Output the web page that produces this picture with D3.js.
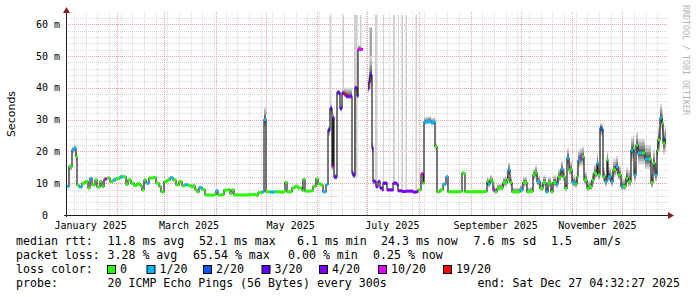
<!DOCTYPE html>
<html>
<head>
<meta charset="utf-8">
<script src="https://cdn.jsdelivr.net/npm/d3@7"></script>
<style>
  html, body { margin: 0; padding: 0; background: #fff; }
  svg text { font-family: "DejaVu Sans Mono", monospace; fill: #000; white-space: pre; }
</style>
</head>
<body>
<div id="chart"></div>
<script>
// median rtt per step: [day since start, median ms, loss class, smoke low ms, smoke high ms]
const rtt = [
  [0, 9.0, 1, 8.6, 9.6], [1.8, 15.2, 0, 14.0, 16.0], [3.6, 20.5, 1, 19.5, 21.5], [4.8, 21.0, 1, 20.0, 22.0],
  [6.0, 18.3, 0, 17.0, 19.8], [6.6, 9.4, 0, 9.0, 10.0], [7.8, 8.8, 1, 8.4, 9.3], [9.6, 10.0, 0, 9.6, 10.5],
  [11.4, 10.5, 0, 10.1, 11.0], [13.2, 8.5, 0, 8.1, 9.0], [14.4, 11.5, 1, 11.0, 12.0], [15.6, 9.5, 0, 9.1, 10.0],
  [17.4, 11.0, 0, 10.6, 11.5], [18.6, 8.8, 0, 8.4, 9.3], [20.4, 10.5, 0, 10.1, 11.0], [21.6, 9.0, 0, 8.6, 9.5],
  [22.8, 11.3, 5, 10.8, 11.8], [24.6, 11.6, 0, 11.2, 12.1], [26.4, 10.5, 0, 10.1, 11.0], [28.2, 11.0, 1, 10.6, 11.5],
  [30.0, 11.5, 0, 11.1, 12.0], [32.4, 12.0, 1, 11.6, 12.5], [34.2, 12.0, 0, 11.6, 12.5], [36.0, 9.6, 0, 9.2, 10.1],
  [37.2, 11.0, 0, 10.6, 11.5], [39.0, 10.0, 0, 9.6, 10.5], [40.8, 9.3, 0, 8.9, 9.8], [42.6, 9.8, 0, 9.4, 10.3],
  [44.4, 9.2, 0, 8.8, 9.7], [45.6, 7.9, 0, 7.5, 8.4], [46.8, 11.0, 0, 10.6, 11.5], [48.0, 10.0, 1, 9.6, 10.5],
  [49.8, 11.6, 0, 11.2, 12.1], [52.2, 11.8, 0, 11.4, 12.3], [54.0, 10.0, 0, 9.6, 10.5], [55.8, 9.0, 0, 8.6, 9.5],
  [57.0, 7.3, 0, 6.9, 7.8], [58.8, 10.5, 0, 10.1, 11.0], [60.6, 11.0, 0, 10.6, 11.5], [62.4, 11.7, 1, 11.3, 12.2],
  [64.2, 11.0, 0, 10.6, 11.5], [66.0, 9.5, 0, 9.1, 10.0], [67.8, 10.5, 0, 10.1, 11.0], [69.6, 9.2, 0, 8.8, 9.7],
  [71.4, 9.5, 1, 9.1, 10.0], [73.2, 9.3, 0, 8.9, 9.8], [75.0, 8.8, 0, 8.4, 9.3], [76.2, 9.2, 0, 8.8, 9.7],
  [77.4, 8.0, 0, 7.6, 8.5], [78.6, 7.3, 0, 6.9, 7.8], [79.8, 8.6, 1, 8.2, 9.1], [81.6, 8.0, 0, 7.6, 8.5],
  [83.4, 6.3, 0, 6.0, 6.7], [86.4, 6.2, 0, 5.9, 6.6], [88.8, 6.5, 0, 6.2, 6.9], [90.0, 7.6, 1, 7.2, 8.0],
  [91.2, 6.3, 0, 6.0, 6.7], [93.0, 6.4, 0, 6.1, 6.8], [94.8, 7.8, 0, 7.4, 8.2], [97.2, 8.0, 0, 7.6, 8.4],
  [98.4, 6.8, 0, 6.5, 7.2], [99.6, 7.9, 0, 7.5, 8.3], [100.8, 6.3, 0, 6.0, 6.7], [104.4, 6.3, 0, 6.0, 6.7],
  [109.2, 6.4, 0, 6.1, 6.8], [114.0, 6.2, 0, 5.9, 6.6], [115.2, 7.0, 0, 6.7, 7.4], [117.6, 7.3, 1, 7.0, 7.7],
  [118.8, 30.0, 1, 28.0, 34.0], [120.0, 7.3, 0, 7.0, 7.7], [122.4, 7.2, 1, 6.9, 7.6], [125.4, 7.3, 0, 7.0, 7.7],
  [128.4, 7.2, 0, 6.9, 7.6], [130.8, 7.5, 0, 7.2, 7.9], [131.4, 10.2, 0, 9.8, 10.6], [132.6, 7.3, 0, 7.0, 7.7],
  [135.6, 8.5, 0, 8.1, 8.9], [137.4, 9.0, 0, 8.6, 9.4], [139.2, 8.5, 0, 8.1, 8.9], [141.6, 7.7, 0, 7.4, 8.1],
  [142.2, 11.2, 0, 10.8, 11.6], [143.4, 7.5, 0, 7.2, 7.9], [146.4, 7.6, 0, 7.3, 8.0], [148.2, 9.0, 0, 8.6, 9.4],
  [150.0, 11.4, 0, 11.0, 11.8], [151.2, 9.8, 0, 9.4, 10.2], [153.0, 9.4, 0, 9.0, 9.8], [154.2, 7.3, 1, 7.0, 7.7],
  [156.0, 9.6, 1, 9.2, 10.0], [157.2, 26.7, 3, 25.0, 28.0], [158.4, 33.5, 3, 31.5, 35.0], [159.6, 15.2, 5, 14.0, 16.5],
  [160.2, 30.5, 3, 29.0, 32.0], [160.8, 12.0, 3, 11.0, 13.0], [162.6, 38.5, 3, 37.5, 39.5], [163.8, 38.3, 3, 37.5, 39.5],
  [164.4, 33.5, 3, 32.5, 34.5], [165.6, 38.3, 3, 37.5, 39.5], [166.8, 38.0, 6, 37.0, 40.0], [168.0, 37.3, 4, 36.5, 40.0],
  [170.4, 37.3, 4, 36.5, 40.0], [171.6, 13.2, 4, 12.0, 14.5], [172.2, 12.5, 3, 11.5, 13.5], [173.4, 40.0, 3, 39.0, 41.0],
  [174.6, 37.5, 3, 36.5, 38.5], [175.2, 52.1, 5, 51.5, 53.5], [177.0, 52.1, 5, 51.5, 53.5], [178.2, null, 0, null, null],
  [181.2, 39.8, 4, 38.5, 44.0], [181.8, 42.0, 4, 40.0, 48.0], [182.4, 44.0, 3, 40.0, 50.0], [183.6, 21.0, 3, 19.0, 23.0],
  [184.2, 10.5, 4, 9.5, 11.5], [186.0, 8.9, 4, 8.3, 9.5], [187.2, 10.5, 4, 9.8, 11.2], [188.4, 8.5, 4, 8.0, 9.0],
  [189.6, 7.9, 4, 7.4, 8.4], [190.2, 10.0, 3, 9.4, 10.6], [192.6, 7.9, 4, 7.4, 8.4], [195.6, 7.9, 4, 7.4, 8.4],
  [196.2, 10.0, 4, 9.4, 10.6], [198.6, 9.5, 4, 8.9, 10.1], [199.2, 7.6, 4, 7.2, 8.1], [201.6, 7.4, 4, 7.0, 7.9],
  [204.0, 7.5, 4, 7.1, 8.0], [206.4, 7.5, 4, 7.1, 8.0], [208.2, 7.2, 4, 6.8, 7.7], [210.0, 7.3, 4, 6.9, 7.8],
  [211.2, 7.9, 0, 7.5, 8.4], [213.0, 12.9, 5, 12.3, 13.5], [214.2, 10.0, 0, 9.5, 10.5], [214.8, 29.3, 1, 28.5, 30.8],
  [217.2, 29.5, 1, 28.7, 31.0], [219.0, 29.0, 1, 28.2, 30.5], [220.8, 29.3, 1, 28.5, 30.8], [221.4, 21.5, 0, 20.5, 22.5],
  [222.6, 7.3, 0, 6.9, 7.8], [224.4, 7.9, 0, 7.5, 8.4], [226.2, 9.7, 1, 9.2, 10.2], [228.0, 12.0, 1, 11.4, 12.6],
  [229.2, 7.3, 0, 6.9, 7.8], [230.4, 7.3, 0, 6.9, 7.8], [233.4, 7.3, 0, 6.9, 7.8], [236.4, 7.4, 0, 7.0, 7.9],
  [237.6, 13.2, 0, 12.6, 13.8], [238.8, 13.0, 0, 12.4, 13.6], [239.4, 7.3, 0, 6.9, 7.8], [242.4, 7.3, 0, 6.9, 7.8],
  [245.4, 7.3, 0, 6.9, 7.8], [248.4, 7.3, 0, 6.9, 7.8], [251.4, 7.4, 0, 7.0, 7.9], [252.6, 10.5, 0, 9.5, 12.0],
  [253.2, 9.7, 1, 8.7, 11.5], [254.4, 11.0, 0, 9.8, 12.5], [255.6, 10.5, 0, 9.5, 12.0], [256.2, 7.9, 5, 7.2, 9.5],
  [257.4, 7.3, 0, 6.8, 8.5], [258.6, 8.4, 0, 7.6, 9.8], [260.4, 8.5, 0, 7.7, 10.0], [262.2, 10.2, 0, 9.0, 12.0],
  [264.6, 11.0, 0, 9.5, 13.5], [265.2, 14.2, 1, 12.5, 16.5], [266.4, 10.2, 0, 9.0, 12.0], [267.6, 7.3, 0, 6.8, 8.6],
  [270.0, 7.3, 0, 6.8, 8.6], [272.4, 7.9, 1, 7.2, 9.5], [274.2, 10.2, 0, 9.0, 12.0], [276.6, 7.3, 0, 6.8, 8.6],
  [278.4, 7.4, 0, 6.9, 8.8], [280.2, 12.6, 0, 11.0, 14.5], [281.4, 13.3, 0, 11.5, 15.5], [282.6, 10.5, 1, 9.2, 12.5],
  [284.4, 8.4, 0, 7.5, 10.0], [286.2, 10.2, 0, 9.0, 12.5], [288.0, 7.3, 1, 6.8, 9.0], [289.2, 10.0, 0, 8.8, 12.0],
  [291.0, 7.3, 0, 6.8, 9.0], [292.2, 10.2, 0, 9.0, 12.5], [294.0, 9.7, 1, 8.5, 12.0], [295.2, 12.0, 0, 10.5, 14.5],
  [297.0, 14.4, 1, 12.5, 17.0], [298.2, 12.0, 0, 10.5, 14.5], [299.4, 8.4, 0, 7.5, 10.5], [300.6, 17.9, 1, 15.5, 21.0],
  [301.8, 14.2, 0, 12.5, 17.0], [303.6, 10.2, 1, 9.0, 12.5], [305.4, 9.7, 0, 8.5, 12.0], [306.6, 12.0, 0, 10.5, 14.5],
  [307.2, 17.3, 1, 15.0, 20.5], [308.4, 18.0, 5, 15.5, 21.0], [309.6, 18.3, 0, 15.5, 21.5], [310.8, 11.0, 0, 9.5, 13.5],
  [312.6, 8.4, 0, 7.5, 10.5], [313.8, 8.9, 0, 7.8, 11.0], [315.6, 11.0, 0, 9.5, 13.5], [316.8, 13.1, 0, 11.5, 16.0],
  [318.6, 16.3, 1, 14.0, 19.5], [319.2, 12.6, 0, 11.0, 15.5], [320.4, 27.3, 2, 25.0, 29.0], [321.6, 26.7, 2, 24.5, 28.5],
  [322.2, 12.0, 0, 10.5, 15.0], [323.4, 10.5, 1, 9.0, 13.0], [324.6, 17.3, 0, 14.5, 20.0], [325.2, 12.0, 1, 10.5, 15.0],
  [327.0, 10.5, 1, 9.0, 13.5], [328.2, 14.2, 0, 12.0, 17.5], [330.0, 15.2, 1, 13.0, 18.5], [331.2, 12.6, 0, 11.0, 15.5],
  [333.0, 8.9, 1, 7.8, 11.5], [334.2, 9.0, 0, 7.8, 11.5], [336.0, 11.6, 0, 10.0, 15.0], [337.2, 10.5, 0, 9.0, 14.0],
  [339.0, 20.4, 1, 17.0, 24.5], [340.2, 21.0, 0, 17.5, 25.0], [340.8, 12.6, 1, 10.5, 16.5], [342.0, 22.0, 0, 18.5, 26.0],
  [343.2, 19.5, 1, 16.0, 24.0], [345.6, 19.5, 0, 16.0, 24.0], [347.4, 17.6, 1, 14.5, 22.0], [349.8, 17.6, 0, 14.5, 22.0],
  [351.0, 10.2, 0, 8.5, 13.5], [352.2, 16.3, 0, 13.5, 20.5], [353.4, 12.6, 1, 10.5, 16.5], [354.6, 20.4, 0, 17.0, 25.0],
  [355.2, 23.6, 0, 20.0, 28.0], [356.4, 30.5, 1, 27.0, 35.0], [357.6, 28.9, 0, 25.0, 33.0], [358.2, 22.6, 0, 19.0, 27.0],
  [359.4, 24.3, 1, 20.0, 28.0]
];

// tall smoke columns from single very slow pings: [from day, to day, bottom ms, top ms]
const smokeSpikes = [
  [158.1, 159.0, 30, 70], [165.9, 166.8, 38, 70], [172.8, 175.0, 12, 70], [176.4, 177.3, 52, 70],
  [182.1, 183.6, 40, 59], [185.4, 186.6, 9, 70], [190.2, 190.8, 10, 70], [196.2, 197.4, 10, 70],
  [199.2, 199.8, 8, 70], [201.3, 202.2, 7.5, 70], [203.7, 204.6, 7.5, 70], [209.7, 210.6, 7.5, 70]
];

const yTicks = [0, 10, 20, 30, 40, 50, 60];
const yTickLabels = ["0", "10 m", "20 m", "30 m", "40 m", "50 m", "60 m"];
const monthLabels = ["January 2025", "March 2025", "May 2025", "July 2025", "September 2025", "November 2025"];
const monthIdx = [0, 2, 4, 6, 8, 10];

const lossLabels = ["0", "1/20", "2/20", "3/20", "4/20", "10/20", "19/20"];
const lossColors = ["#26ff00", "#00b8ff", "#0059ff", "#5e00ff", "#7e00ff", "#dd00ff", "#ff0000"];

const rttStats = ["11.8 ms avg", "52.1 ms max", "6.1 ms min", "24.3 ms now", "7.6 ms sd", "1.5", "am/s"];
const lossStats = ["3.28 % avg", "65.54 % max", "0.00 % min", "0.25 % now"];
const probeText = "20 ICMP Echo Pings (56 Bytes) every 300s";
const endText = "end: Sat Dec 27 04:32:27 2025";

const start = new Date(Date.UTC(2025, 0, 1, 4, 32, 27));
const end = new Date(Date.UTC(2025, 11, 27, 4, 32, 27));
const dayDate = d => new Date(start.getTime() + d * 864e5);

const W = 697, H = 297;
const pL = 66, pR = 666, pT = 15, pB = 215;

const svg = d3.select("#chart").append("svg")
  .attr("width", W).attr("height", H);

const x = d3.scaleUtc().domain([start, end]).range([pL, pR]);
const y = d3.scaleLinear().domain([0, 62.9]).range([pB, pT]);
const px = v => Math.round(v) + 0.5;

// grid
const grid = svg.append("g");
d3.range(2, 63, 2).filter(v => v % 10 !== 0).forEach(v => {
  grid.append("line").attr("x1", pL).attr("x2", pR + 2)
    .attr("y1", px(y(v))).attr("y2", px(y(v)))
    .attr("stroke", "#d8d8d8").attr("stroke-dasharray", "1,1");
});
d3.utcMonday.range(start, end).forEach(d => {
  grid.append("line").attr("x1", px(x(d))).attr("x2", px(x(d)))
    .attr("y1", pT - 3).attr("y2", pB)
    .attr("stroke", "#d8d8d8").attr("stroke-dasharray", "1,1");
});
yTicks.filter(v => v > 0).forEach(v => {
  grid.append("line").attr("x1", pL).attr("x2", pR + 2)
    .attr("y1", px(y(v))).attr("y2", px(y(v)))
    .attr("stroke", "#eca0a0").attr("stroke-dasharray", "1,1");
});
d3.utcMonth.range(start, end).forEach(d => {
  grid.append("line").attr("x1", px(x(d))).attr("x2", px(x(d)))
    .attr("y1", pT - 3).attr("y2", pB)
    .attr("stroke", "#eca0a0").attr("stroke-dasharray", "1,1");
});

const plot = svg.append("g");
plot.append("clipPath").attr("id", "clip").append("rect")
  .attr("x", pL).attr("y", pT).attr("width", pR - pL).attr("height", pB - pT);
const body = plot.append("g").attr("clip-path", "url(#clip)");

const pts = rtt.map(r => ({ day: r[0], med: r[1], loss: r[2], lo: r[3], hi: r[4] }));
const ext = pts.concat([Object.assign({}, pts[pts.length - 1], { day: 360 })]);

// smoke spikes
body.selectAll("rect.spike").data(smokeSpikes).enter().append("rect")
  .attr("x", d => x(dayDate(d[0])))
  .attr("width", d => Math.max(1, x(dayDate(d[1])) - x(dayDate(d[0]))))
  .attr("y", d => y(d[3]))
  .attr("height", d => y(d[2]) - y(d[3]))
  .attr("fill", d => d[3] < 65 ? "#a8a8a8" : "#cfcfcf");

// smoke layers
const layers = [[1, "#d4d4d4"], [0.75, "#b0b0b0"], [0.5, "#8c8c8c"], [0.3, "#6a6a6a"], [0.15, "#4a4a4a"]];
layers.forEach(([f, c]) => {
  const area = d3.area()
    .defined(d => d.med != null)
    .curve(d3.curveStepAfter)
    .x(d => x(dayDate(d.day)))
    .y0(d => y(d.med - (d.med - d.lo) * f))
    .y1(d => y(d.med + (d.hi - d.med) * f));
  body.append("path").datum(ext).attr("d", area).attr("fill", c);
});

// median line
const line = d3.line()
  .defined(d => d.med != null)
  .curve(d3.curveStepAfter)
  .x(d => x(dayDate(d.day)))
  .y(d => y(d.med));
body.append("path").datum(ext).attr("d", line)
  .attr("fill", "none").attr("stroke", "#202020").attr("stroke-width", 1.2);

// loss coloured median marks
const marks = pts.map((d, i) => ({ d, next: ext[i + 1] })).filter(o => o.d.med != null);
body.selectAll("rect.loss").data(marks).enter().append("rect")
  .attr("x", o => x(dayDate(o.d.day)))
  .attr("width", o => Math.max(1.5, x(dayDate(o.next.day)) - x(dayDate(o.d.day))))
  .attr("y", o => y(o.d.med) - 1.5)
  .attr("height", 3)
  .attr("fill", o => lossColors[o.d.loss]);

// axes
svg.append("line").attr("x1", pL - 2).attr("x2", pR + 4)
  .attr("y1", pB + 0.5).attr("y2", pB + 0.5).attr("stroke", "#202020");
svg.append("line").attr("x1", pL + 0.5).attr("x2", pL + 0.5)
  .attr("y1", pB + 2).attr("y2", pT - 3).attr("stroke", "#202020");
svg.append("path").attr("d", `M${pR + 2},${pB - 3} L${pR + 8},${pB + 0.5} L${pR + 2},${pB + 4} Z`)
  .attr("fill", "#802020");
svg.append("path").attr("d", `M${pL - 3},${pT - 2} L${pL + 0.5},${pT - 8} L${pL + 4},${pT - 2} Z`)
  .attr("fill", "#802020");

// y tick labels
svg.selectAll("text.ytick").data(yTicks).enter().append("text")
  .attr("x", 60).attr("y", v => y(v) + 3.6)
  .attr("text-anchor", "end").attr("font-size", 10)
  .text((v, i) => yTickLabels[i] + (yTickLabels[i].indexOf(" ") < 0 ? "  " : ""));

// x labels, centred half a month after the month start
svg.selectAll("text.xtick").data(monthIdx).enter().append("text")
  .attr("x", m => x(new Date(Date.UTC(2025, m, 16))))
  .attr("y", 228.5)
  .attr("text-anchor", "middle").attr("font-size", 10)
  .text((m, i) => monthLabels[i]);

svg.append("text")
  .attr("transform", "translate(15,114) rotate(-90)")
  .attr("text-anchor", "middle")
  .style("font-family", "'DejaVu Sans', sans-serif")
  .attr("font-size", 11)
  .text("Seconds");

svg.append("text")
  .attr("transform", "translate(683,5) rotate(90)")
  .attr("font-size", 8.3)
  .style("fill", "#b4b4b4")
  .text("RRDTOOL / TOBI OETIKER");

// legend
const lg = svg.append("g").attr("font-size", 11.6);
const row = [245, 259, 273, 286.5];
lg.append("text").attr("x", 16).attr("y", row[0]).text("median rtt:");
const rttX = [107.5, 199, 297, 381, 473.5, 551, 593];
rttStats.forEach((t, i) => lg.append("text").attr("x", rttX[i]).attr("y", row[0]).text(t));

lg.append("text").attr("x", 16).attr("y", row[1]).text("packet loss:");
const lossX = [107.5, 193, 288, 373];
lossStats.forEach((t, i) => lg.append("text").attr("x", lossX[i]).attr("y", row[1]).text(t));

lg.append("text").attr("x", 16).attr("y", row[2]).text("loss color:");
const boxX = [107.5, 147, 203.5, 262, 319.5, 378.5, 443.5];
lossLabels.forEach((t, i) => {
  lg.append("rect").attr("x", boxX[i]).attr("y", row[2] - 7.5).attr("width", 8).attr("height", 8)
    .attr("fill", lossColors[i]).attr("stroke", "#000").attr("stroke-width", 1);
  lg.append("text").attr("x", boxX[i] + 12.5).attr("y", row[2]).text(t);
});

lg.append("text").attr("x", 16).attr("y", row[3]).text("probe:");
lg.append("text").attr("x", 107.5).attr("y", row[3]).text(probeText);
lg.append("text").attr("x", 680).attr("y", row[3]).attr("text-anchor", "end").text(endText);
</script>
</body>
</html>
